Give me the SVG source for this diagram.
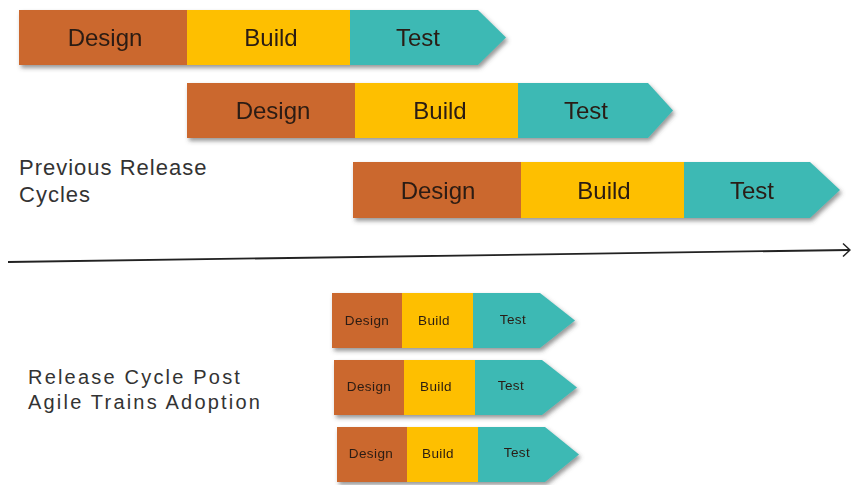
<svg xmlns="http://www.w3.org/2000/svg" width="851" height="485" viewBox="0 0 851 485">
<defs>
<filter id="sh" x="-5%" y="-20%" width="115%" height="150%">
<feDropShadow dx="2" dy="3" stdDeviation="2" flood-color="#444" flood-opacity="0.55"/>
</filter>
<style>
.d{fill:#CB672D}
.b{fill:#FEBF00}
.t{fill:#3DB9B4}
.lb{font-family:"Liberation Sans",Arial,sans-serif;font-size:24px;fill:#2a1c12;text-anchor:middle}
.sm{font-family:"Liberation Sans",Arial,sans-serif;font-size:13.5px;letter-spacing:0.4px;fill:#2a1c12;text-anchor:middle}
.cap{font-family:"Liberation Sans",Arial,sans-serif;fill:#333}
</style>
</defs>
<rect width="851" height="485" fill="#fff"/>

<g id="cycle1" filter="url(#sh)">
<rect class="d" x="19" y="10" width="168" height="55"/>
<rect class="b" x="187" y="10" width="163" height="55"/>
<polygon class="t" points="350,10 478,10 506,37.5 478,65 350,65"/>
<text class="lb" x="105" y="46">Design</text>
<text class="lb" x="271" y="46">Build</text>
<text class="lb" x="418" y="46">Test</text>
</g>

<g id="cycle2" filter="url(#sh)">
<rect class="d" x="187" y="83" width="168" height="55"/>
<rect class="b" x="355" y="83" width="163" height="55"/>
<polygon class="t" points="518,83 648,83 673,110.5 648,138 518,138"/>
<text class="lb" x="273" y="119">Design</text>
<text class="lb" x="440" y="119">Build</text>
<text class="lb" x="586" y="119">Test</text>
</g>

<g id="cycle3" filter="url(#sh)">
<rect class="d" x="353" y="162" width="168" height="56"/>
<rect class="b" x="521" y="162" width="163" height="56"/>
<polygon class="t" points="684,162 810,162 840,190 810,218 684,218"/>
<text class="lb" x="438" y="199">Design</text>
<text class="lb" x="604" y="199">Build</text>
<text class="lb" x="752" y="199">Test</text>
</g>

<g id="label-previous">
<text class="cap" x="19" y="175" font-size="22" letter-spacing="1">Previous Release</text>
<text class="cap" x="19" y="202" font-size="22" letter-spacing="1">Cycles</text>
</g>

<g id="connectors">
<line x1="8" y1="262" x2="849" y2="250" stroke="#222" stroke-width="1.8"/>
<polyline points="843,243.5 850,250 843,256.5" fill="none" stroke="#222" stroke-width="1.5"/>
</g>

<g id="agile1" filter="url(#sh)">
<rect class="d" x="332" y="293" width="70" height="55"/>
<rect class="b" x="402" y="293" width="71" height="55"/>
<polygon class="t" points="473,293 540,293 575,320.5 540,348 473,348"/>
<text class="sm" x="367" y="325">Design</text>
<text class="sm" x="434" y="325">Build</text>
<text class="sm" x="513" y="324">Test</text>
</g>

<g id="agile2" filter="url(#sh)">
<rect class="d" x="334" y="360" width="70" height="55"/>
<rect class="b" x="404" y="360" width="71" height="55"/>
<polygon class="t" points="475,360 542,360 577,387.5 542,415 475,415"/>
<text class="sm" x="369" y="391">Design</text>
<text class="sm" x="436" y="391">Build</text>
<text class="sm" x="511" y="390">Test</text>
</g>

<g id="agile3" filter="url(#sh)">
<rect class="d" x="337" y="427" width="70" height="55"/>
<rect class="b" x="407" y="427" width="71" height="55"/>
<polygon class="t" points="478,427 545,427 579,454.5 545,482 478,482"/>
<text class="sm" x="371" y="458">Design</text>
<text class="sm" x="438" y="458">Build</text>
<text class="sm" x="517" y="457">Test</text>
</g>

<g id="label-agile">
<text class="cap" x="28" y="384" font-size="20" letter-spacing="2.2">Release Cycle Post</text>
<text class="cap" x="28" y="409" font-size="20" letter-spacing="2.2">Agile Trains Adoption</text>
</g>
</svg>
